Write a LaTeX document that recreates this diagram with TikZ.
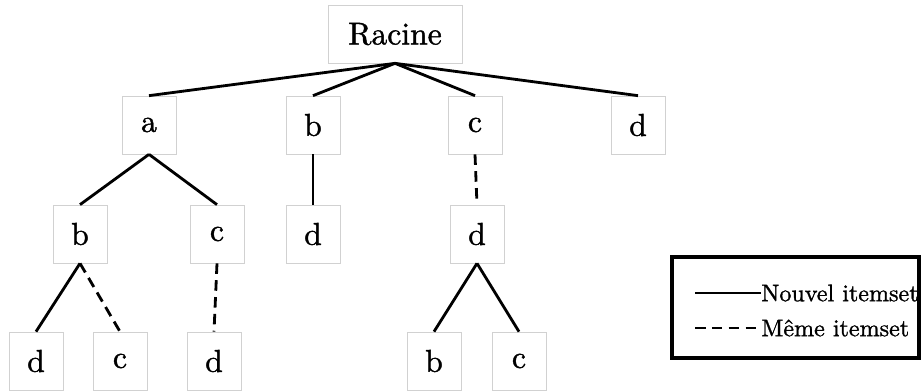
\documentclass[tikz,border=0pt]{standalone}
\usepackage{fontspec}
\setmainfont{lmroman10-regular.otf}[FakeBold=1.2]
\usepackage{tikz}
\tikzset{
  itemnode/.style={draw=black!18,line width=0.4pt,minimum width=1.08cm,minimum height=1.16cm,inner sep=0pt,font=\fontsize{18}{22}\selectfont},
  nouveau/.style={draw,line width=1.6pt},
  meme/.style={draw,line width=1.6pt,dash pattern=on 6pt off 3.6pt},
}

\begin{document}
\begin{tikzpicture}[x=0.02cm,y=-0.02cm]
\useasboundingbox (0,0) rectangle (923,392);
\node[itemnode,minimum width=2.68cm] (racine) at (395,34) {Racine};
\node[itemnode] (a) at (149,125) {a};
\node[itemnode] (b) at (313,125) {b};
\node[itemnode] (c) at (475,125) {c};
\node[itemnode] (d) at (638,125) {d};
\node[itemnode] (ab) at (80,234) {b};
\node[itemnode] (ac) at (217,234) {c};
\node[itemnode] (bd) at (313,234) {d};
\node[itemnode] (cd) at (477,234) {d};
\node[itemnode] (abd) at (36,361) {d};
\node[itemnode] (abc) at (120,361) {c};
\node[itemnode] (acd) at (214,361) {d};
\node[itemnode] (cdb) at (434,361) {b};
\node[itemnode] (cdc) at (519,361) {c};
\foreach \n in {a,b,c,d}
  \draw[nouveau] (racine.south) -- (\n.north);
\draw[nouveau] (a.south) -- (ab.north);
\draw[nouveau] (a.south) -- (ac.north);
\draw[nouveau] (b.south) -- (bd.north);
\draw[meme] (c.south) -- (cd.north);
\draw[nouveau] (ab.south) -- (abd.north);
\draw[meme] (ab.south) -- (abc.north);
\draw[meme] (ac.south) -- (acd.north);
\draw[nouveau] (cd.south) -- (cdb.north);
\draw[nouveau] (cd.south) -- (cdc.north);
\draw[line width=1.8pt] (672,257) rectangle (919,358);
\node[anchor=west,inner sep=0pt,font=\fontsize{13.7}{16}\selectfont] (nouv) at (761,293) {Nouvel itemset};
\node[anchor=west,inner sep=0pt,font=\fontsize{13.7}{16}\selectfont] (meme) at (761,328) {Même itemset};
\coordinate (nouvs) at (695,293);
\coordinate (memes) at (695,328);
\draw[nouveau] (nouvs) -- (nouv.west);
\draw[meme] (memes) -- (meme.west);
\end{tikzpicture}
\end{document}
